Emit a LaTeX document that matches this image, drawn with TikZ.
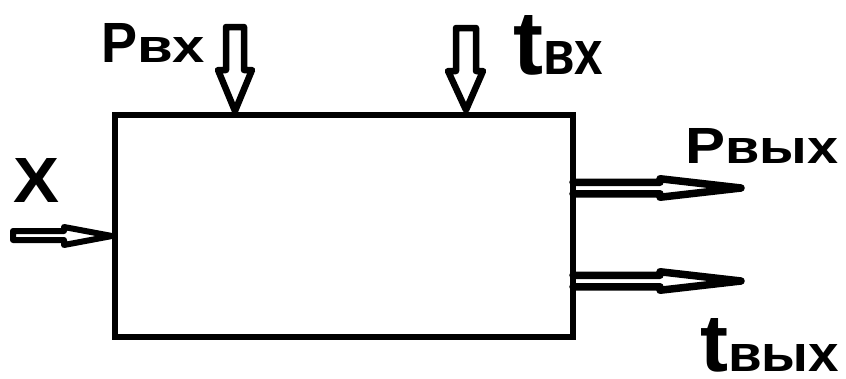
\documentclass[tikz,border=0pt]{standalone}
\usepackage{fontspec}
\usepackage{graphicx}
\setmainfont{Liberation Sans}
\begin{document}
\begin{tikzpicture}[x=1pt,y=-1pt,
  boxline/.style={line width=6pt},
  hollowtop/.style={line width=6.5pt,line join=round,line cap=round},
  hollowin/.style={line width=6pt,line join=round,line cap=round},
  hollowout/.style={line width=7.5pt,line join=round,line cap=round},
  lbl/.style={anchor=base west,inner sep=0pt,font=\bfseries}]
\useasboundingbox (0,0) rectangle (846,378);
% main box
\coordinate (bl) at (115,115);
\coordinate (br) at (573,337);
\draw[boxline] (bl) rectangle (br);
% top arrow Pвх
\coordinate (p1) at (235,111);
\draw[hollowtop] (226,27) -- (226,70) -- (218,70) -- (p1) -- (252,70) -- (244,70) -- (244,27) -- cycle;
% top arrow tвх
\coordinate (t1) at (466,110);
\draw[hollowtop] (456,28) -- (456,71) -- (448,71) -- (t1) -- (483,71) -- (476,71) -- (476,28) -- cycle;
% input arrow X
\coordinate (x1) at (112,236);
\draw[hollowin] (13,231) -- (64,231) -- (64,227) -- (x1) -- (64,245) -- (64,240) -- (13,240) -- cycle;
% output arrows
\coordinate (o1) at (573,182.25);
\coordinate (o2) at (573,275.25);
\draw[hollowout] (o1) -- (660,182.25) -- (660,178.75) -- (741,188) -- (660,197.25) -- (660,193.75) -- (573,193.75);
\draw[hollowout] (o2) -- (660,275.25) -- (660,271.75) -- (741,281) -- (660,290.25) -- (660,286.75) -- (573,286.75);
% labels
\node[lbl] (lp) at (101,62) {\resizebox{36pt}{39pt}{Р}\resizebox{68pt}{25pt}{вх}};
\node[lbl] (lt) at (513,74) {\resizebox{30pt}{59pt}{t}\resizebox{60pt}{33pt}{вх}};
\node[lbl] (lpo) at (685,163) {\resizebox{40pt}{35pt}{Р}\resizebox{113pt}{25pt}{вых}};
\node[lbl] (lto) at (700,371) {\resizebox{28pt}{53pt}{t}\resizebox{111pt}{27pt}{вых}};
\node[lbl] (lx) at (13,202) {\resizebox{46pt}{44pt}{X}};
\end{tikzpicture}
\end{document}
